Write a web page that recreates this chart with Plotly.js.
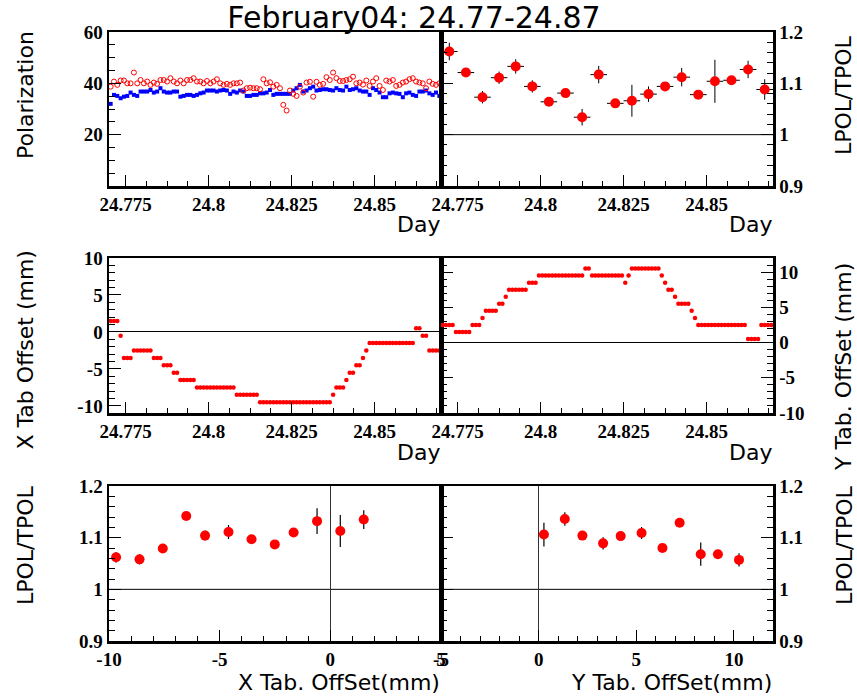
<!DOCTYPE html>
<html><head><meta charset="utf-8">
<script src="https://cdn.plot.ly/plotly-3.0.1.min.js"></script>
<style>html,body{margin:0;padding:0;background:#fff}#chart{width:857px;height:696px}</style>
</head><body><div id="chart"></div>
<script>
// ---------------- data ----------------
const TITLE = "February04: 24.77-24.87";
const DAY_TICKS = [24.775, 24.8, 24.825, 24.85];
const DAY_TICK_TEXT = ["24.775", "24.8", "24.825", "24.85"];
const POL_DAY_START = 24.7705;   // first time bin centre
const POL_DAY_STEP = 0.001;      // time bin width

const LPOL = [38.7,40.7,39.4,41.1,41.1,40.0,40.0,44.2,40.0,41.3,
  40.0,40.7,39.4,40.3,39.8,41.3,41.3,40.7,42.0,40.7,
  40.0,41.1,40.0,41.3,41.3,42.0,40.7,40.7,40.0,40.9,
  40.0,40.7,41.6,40.0,39.4,39.8,39.4,40.0,40.0,40.3,
  37.2,38.1,38.3,38.1,38.1,37.7,41.6,40.0,40.4,38.7,
  39.4,38.1,31.6,29.4,37.2,35.9,35.1,38.7,36.4,40.3,
  40.6,34.8,40.6,39.4,39.8,42.4,41.3,44.2,42.0,40.9,
  40.9,41.3,41.6,42.6,40.0,40.3,39.5,41.1,39.0,40.7,
  42.0,39.0,37.4,41.1,40.7,41.3,39.0,39.4,40.3,40.7,
  41.6,42.0,40.7,40.3,40.0,38.1,40.7,39.8,39.4,40.0];
const TPOL = [32.0,35.5,35.1,34.2,34.8,35.1,36.4,35.5,35.1,36.8,
  36.8,36.8,37.4,36.4,36.8,38.1,36.8,36.4,36.4,36.8,
  36.8,34.8,35.1,35.5,35.5,35.1,35.5,36.1,36.4,37.2,
  37.2,37.2,36.8,37.2,37.4,37.2,35.9,36.8,36.4,37.2,
  36.8,35.1,35.1,35.5,35.5,36.1,36.1,36.4,37.4,35.5,
  35.9,35.9,35.9,35.9,35.9,37.2,38.1,39.4,36.8,37.2,
  38.1,38.7,37.2,37.4,37.7,37.7,37.4,37.2,38.1,37.4,
  37.2,38.7,37.4,37.7,38.1,37.2,36.8,36.8,35.5,38.1,
  37.4,36.4,34.6,34.6,36.1,36.4,36.1,35.9,34.6,36.1,
  36.4,35.5,35.1,36.8,36.8,37.2,36.1,35.5,36.4,35.1];

const RATIO_DAY = [24.7725,24.7775,24.7825,24.7875,24.7925,24.7975,24.8025,24.8075,24.8125,24.8175,
  24.8225,24.8275,24.8325,24.8375,24.8425,24.8475,24.8525,24.8575,24.8625,24.8675];
const RATIO = [1.162,1.121,1.073,1.111,1.133,1.094,1.064,1.081,1.034,1.117,
  1.061,1.066,1.079,1.094,1.112,1.078,1.104,1.106,1.127,1.088];
const RATIO_ERR = [0.017,0.007,0.012,0.012,0.014,0.012,0.007,0.008,0.016,0.017,
  0.007,0.031,0.015,0.007,0.018,0.007,0.042,0.007,0.017,0.020];
const RATIO_DAY_ERR = 0.0025;

const XTAB = [1.5,1.5,1.5,-0.5,-3.5,-3.5,-3.5,-2.5,-2.5,-2.5,
  -2.5,-2.5,-2.5,-3.5,-3.5,-3.5,-4.5,-4.5,-4.5,-5.5,
  -5.5,-6.5,-6.5,-6.5,-6.5,-6.5,-7.5,-7.5,-7.5,-7.5,
  -7.5,-7.5,-7.5,-7.5,-7.5,-7.5,-7.5,-7.5,-8.5,-8.5,
  -8.5,-8.5,-8.5,-8.5,-8.5,-9.5,-9.5,-9.5,-9.5,-9.5,
  -9.5,-9.5,-9.5,-9.5,-9.5,-9.5,-9.5,-9.5,-9.5,-9.5,
  -9.5,-9.5,-9.5,-9.5,-9.5,-9.5,-9.5,-8.5,-7.5,-7.5,
  -7.5,-6.5,-5.5,-5.5,-4.5,-4.5,-3.5,-2.5,-1.5,-1.5,
  -1.5,-1.5,-1.5,-1.5,-1.5,-1.5,-1.5,-1.5,-1.5,-1.5,
  -1.5,-1.5,0.5,0.5,-0.5,-0.5,-2.5,-2.5,-2.5,-2.5];
const YTAB = [2.5,2.5,2.5,2.5,1.5,1.5,1.5,1.5,1.5,2.5,
  2.5,2.5,3.5,4.5,4.5,4.5,4.5,5.5,5.5,6.5,
  7.5,7.5,7.5,7.5,7.5,7.5,8.5,8.5,8.5,9.5,
  9.5,9.5,9.5,9.5,9.5,9.5,9.5,9.5,9.5,9.5,
  9.5,9.5,9.5,10.5,10.5,9.5,9.5,9.5,9.5,9.5,
  9.5,9.5,9.5,9.5,9.5,8.5,9.5,10.5,10.5,10.5,
  10.5,10.5,10.5,10.5,10.5,10.5,9.5,8.5,7.5,7.5,
  6.5,5.5,5.5,5.5,5.5,4.5,3.5,2.5,2.5,2.5,
  2.5,2.5,2.5,2.5,2.5,2.5,2.5,2.5,2.5,2.5,
  2.5,2.5,0.5,0.5,0.5,0.5,2.5,2.5,2.5,2.5];

const XOFF = [-9.68,-8.62,-7.57,-6.51,-5.66,-4.60,-3.56,-2.51,-1.66,-0.60,0.45,1.51];
const XOFF_RATIO = [1.062,1.058,1.079,1.142,1.104,1.111,1.097,1.087,1.110,1.132,1.113,1.135];
const XOFF_ERR = [0.010,0.0097,0.006,0.006,0.0097,0.0135,0.006,0.006,0.006,0.025,0.031,0.018];

const YOFF = [0.27,1.34,2.24,3.30,4.20,5.27,6.34,7.22,8.30,9.18,10.26];
const YOFF_RATIO = [1.106,1.136,1.104,1.089,1.103,1.109,1.080,1.129,1.068,1.068,1.057];
const YOFF_ERR = [0.023,0.013,0.006,0.012,0.006,0.0116,0.006,0.006,0.0225,0.006,0.013];

const POL_TICKS = [20, 40, 60], POL_TICK_TEXT = ["20", "40", "60"];
const RAT_TICKS = [0.9, 1, 1.1, 1.2], RAT_TICK_TEXT = ["0.9", "1", "1.1", "1.2"];
const OFF_TICKS = [-10, -5, 0, 5, 10], OFF_TICK_TEXT = ["-10", "-5", "0", "5", "10"];

// ---------------- build ----------------
const days = LPOL.map((_, i) => POL_DAY_START + i * POL_DAY_STEP);

const W = 857, H = 696;
const xL = [109 / W, 441 / W], xR = [441 / W, 773 / W];
const yT = [1 - 186 / H, 1 - 32 / H], yM = [1 - 413 / H, 1 - 258 / H], yB = [1 - 641 / H, 1 - 486 / H];

const TICKFONT = {family: "Liberation Serif", size: 19, weight: "bold", color: "#000"};
const TFONT = {family: "DejaVu Sans", size: 22, color: "#000"};
const XTFONT = {family: "DejaVu Sans", size: 22, color: "#000"};

function axis(extra) {
  return Object.assign({
    showline: true, linecolor: "#000", linewidth: 2.5, mirror: true,
    ticks: "inside", ticklen: 11, tickwidth: 1, tickcolor: "#000",
    showgrid: false, zeroline: false, tickfont: TICKFONT, automargin: false,
    tickmode: "array", fixedrange: true
  }, extra);
}
function minor(t0, dt, len) {
  return {ticks: "inside", ticklen: len, tickwidth: 1, tickcolor: "#000", tick0: t0, dtick: dt, showgrid: false};
}

const red = "#ff0000", blue = "#0000ff";
const dotMarker = {color: red, size: 4.5, symbol: "circle"};
const bigMarker = {color: red, size: 10, symbol: "circle"};

const traces = [
  {x: days, y: TPOL, xaxis: "x", yaxis: "y", mode: "markers", type: "scatter",
   marker: {color: blue, size: 4, symbol: "square"}},
  {x: days, y: LPOL, xaxis: "x", yaxis: "y", mode: "markers", type: "scatter",
   marker: {color: red, size: 5, symbol: "circle-open", line: {width: 1, color: red}}},
  {x: RATIO_DAY, y: RATIO, xaxis: "x2", yaxis: "y2", mode: "markers", type: "scatter",
   marker: bigMarker,
   error_y: {type: "data", array: RATIO_ERR, visible: true, color: "#000", thickness: 1, width: 0},
   error_x: {type: "constant", value: RATIO_DAY_ERR, visible: true, color: "#000", thickness: 1, width: 0}},
  {x: days, y: XTAB, xaxis: "x3", yaxis: "y3", mode: "markers", type: "scatter", marker: dotMarker},
  {x: days, y: YTAB, xaxis: "x4", yaxis: "y4", mode: "markers", type: "scatter", marker: dotMarker},
  {x: XOFF, y: XOFF_RATIO, xaxis: "x5", yaxis: "y5", mode: "markers", type: "scatter", marker: bigMarker,
   error_y: {type: "data", array: XOFF_ERR, visible: true, color: "#000", thickness: 1.2, width: 0}},
  {x: YOFF, y: YOFF_RATIO, xaxis: "x6", yaxis: "y6", mode: "markers", type: "scatter", marker: bigMarker,
   error_y: {type: "data", array: YOFF_ERR, visible: true, color: "#000", thickness: 1.2, width: 0}}
];

const dayX = (dom, anchor) => axis({domain: dom, anchor: anchor, range: [24.77, 24.87],
  tickvals: DAY_TICKS, ticktext: DAY_TICK_TEXT, minor: minor(24.775, 0.00625, 5)});

const layout = {
  width: W, height: H, margin: {l: 0, r: 0, t: 0, b: 0},
  paper_bgcolor: "#fff", plot_bgcolor: "#fff", showlegend: false,
  title: {text: TITLE, font: {family: "DejaVu Sans", size: 30, color: "#000"},
          x: 414 / W, xanchor: "center", y: 1 - 17 / H, yanchor: "middle", xref: "paper", yref: "container"},
  xaxis: dayX(xL, "y"),
  yaxis: axis({domain: yT, anchor: "x", range: [0, 60], tickvals: POL_TICKS, ticktext: POL_TICK_TEXT,
    ticklen: 12, minor: minor(0, 5, 6)}),
  xaxis2: dayX(xR, "y2"),
  yaxis2: axis({domain: yT, anchor: "x2", side: "right", mirror: "ticks", range: [0.9, 1.2],
    tickvals: RAT_TICKS, ticktext: RAT_TICK_TEXT, ticklen: 12, minor: minor(0.9, 0.02, 6)}),
  xaxis3: dayX(xL, "y3"),
  yaxis3: axis({domain: yM, anchor: "x3", range: [-10.95, 10], tickvals: OFF_TICKS, ticktext: OFF_TICK_TEXT,
    ticklen: 12, minor: minor(0, 1, 6), zeroline: true, zerolinecolor: "#000", zerolinewidth: 1}),
  xaxis4: dayX(xR, "y4"),
  yaxis4: axis({domain: yM, anchor: "x4", side: "right", mirror: "ticks", range: [-10, 12],
    tickvals: OFF_TICKS, ticktext: OFF_TICK_TEXT, ticklen: 12, minor: minor(0, 1, 6),
    zeroline: true, zerolinecolor: "#000", zerolinewidth: 1}),
  xaxis5: axis({domain: xL, anchor: "y5", range: [-10, 5], tickvals: OFF_TICKS, ticktext: OFF_TICK_TEXT,
    minor: minor(0, 1, 5), zeroline: true, zerolinecolor: "#333", zerolinewidth: 1}),
  yaxis5: axis({domain: yB, anchor: "x5", range: [0.9, 1.2], tickvals: RAT_TICKS, ticktext: RAT_TICK_TEXT,
    ticklen: 12, minor: minor(0.9, 0.02, 6)}),
  xaxis6: axis({domain: xR, anchor: "y6", range: [-5, 12], tickvals: OFF_TICKS, ticktext: OFF_TICK_TEXT,
    minor: minor(0, 1, 5), zeroline: true, zerolinecolor: "#333", zerolinewidth: 1}),
  yaxis6: axis({domain: yB, anchor: "x6", side: "right", mirror: "ticks", range: [0.9, 1.2],
    tickvals: RAT_TICKS, ticktext: RAT_TICK_TEXT, ticklen: 12, minor: minor(0.9, 0.02, 6)}),
  shapes: ["2", "5", "6"].map(k => ({type: "line", xref: "x" + k + " domain", x0: 0, x1: 1,
    yref: "y" + k, y0: 1, y1: 1, line: {color: "#000", width: 1}, layer: "below"})),
  annotations: [
    {text: "Polarization", x: 25 / W, y: 1 - 30 / H, textangle: -90, yanchor: "top"},
    {text: "LPOL/TPOL", x: 844 / W, y: 1 - 34 / H, textangle: -90, yanchor: "top"},
    {text: "Day", x: 441 / W, y: 1 - 224 / H, xanchor: "right", yanchor: "middle"},
    {text: "Day", x: 773 / W, y: 1 - 224 / H, xanchor: "right", yanchor: "middle"},
    {text: "Day", x: 441 / W, y: 1 - 452 / H, xanchor: "right", yanchor: "middle"},
    {text: "Day", x: 773 / W, y: 1 - 452 / H, xanchor: "right", yanchor: "middle"},
    {text: "X Tab Offset (mm)", x: 25 / W, y: 1 - 250 / H, textangle: -90, yanchor: "top"},
    {text: "Y Tab. OffSet (mm)", x: 844 / W, y: 1 - 262 / H, textangle: -90, yanchor: "top"},
    {text: "LPOL/TPOL", x: 25 / W, y: 1 - 484 / H, textangle: -90, yanchor: "top"},
    {text: "LPOL/TPOL", x: 844 / W, y: 1 - 484 / H, textangle: -90, yanchor: "top"},
    {text: "X Tab. OffSet(mm)", x: 441 / W, y: 1 - 682 / H, xanchor: "right", yanchor: "middle", font: XTFONT},
    {text: "Y Tab. OffSet(mm)", x: 773 / W, y: 1 - 682 / H, xanchor: "right", yanchor: "middle", font: XTFONT}
  ].map(a => Object.assign({xref: "paper", yref: "paper", showarrow: false, font: TFONT,
    xanchor: "center", borderpad: 0}, a))
};

Plotly.newPlot("chart", traces, layout, {staticPlot: true, displayModeBar: false});
</script>
</body></html>
